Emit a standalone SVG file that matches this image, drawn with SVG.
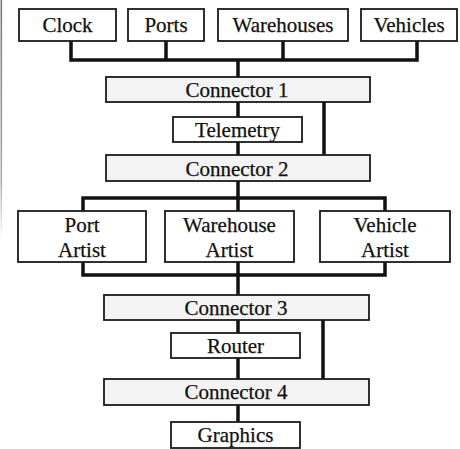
<svg xmlns="http://www.w3.org/2000/svg" width="460" height="449" viewBox="0 0 460 449">
<style>
.box{fill:#ffffff;stroke:#1a1a1a;stroke-width:1.8}
.conn{fill:#f3f3f3;stroke:#1a1a1a;stroke-width:1.8}
.t{font-family:"Liberation Serif","Times New Roman",serif;font-size:21px;fill:#111;stroke:#111;stroke-width:0.25;text-anchor:middle}
.w{fill:none;stroke:#111;stroke-width:3.5;stroke-linejoin:miter;stroke-linecap:square}
</style>
<defs>
<linearGradient id="edge" x1="0" y1="0" x2="0" y2="1">
<stop offset="0" stop-color="#777"/>
<stop offset="0.75" stop-color="#aaa"/>
<stop offset="1" stop-color="#fff"/>
</linearGradient>
</defs>
<rect width="460" height="449" fill="#ffffff"/>
<rect x="0.5" y="0" width="1.6" height="240" fill="url(#edge)"/>
<g id="connectors">
<path class="w" d="M71 41V60H417V41M166 41V60M283 41V60M238 60V77"/>
<path class="w" d="M238 102V117M238 142V155M324 102V155"/>
<path class="w" d="M238 181V198M83 211V198H385V211M238 198V211"/>
<path class="w" d="M83 262V275H385V262M238 262V295"/>
<path class="w" d="M238 320V333M238 358V379M323 320V379"/>
<path class="w" d="M238 405V422"/>
</g>
<g id="clock"><rect class="box" x="19" y="9" width="97" height="32"/><text class="t" x="67.5" y="32">Clock</text></g>
<g id="ports"><rect class="box" x="128" y="9" width="76" height="32"/><text class="t" x="166" y="32">Ports</text></g>
<g id="warehouses"><rect class="box" x="218" y="9" width="130" height="32"/><text class="t" x="283" y="32">Warehouses</text></g>
<g id="vehicles"><rect class="box" x="361" y="9" width="96" height="32"/><text class="t" x="409" y="32">Vehicles</text></g>
<g id="connector1"><rect class="conn" x="106" y="77" width="264" height="25"/><text class="t" x="237" y="97">Connector 1</text></g>
<g id="telemetry"><rect class="box" x="173" y="117" width="129" height="25"/><text class="t" x="237.5" y="137">Telemetry</text></g>
<g id="connector2"><rect class="conn" x="106" y="155" width="264" height="26"/><text class="t" x="237" y="176">Connector 2</text></g>
<g id="port-artist"><rect class="box" x="18" y="211" width="128" height="51"/><text class="t" x="82" y="232">Port</text><text class="t" x="82" y="257">Artist</text></g>
<g id="warehouse-artist"><rect class="box" x="165" y="211" width="129" height="51"/><text class="t" x="229.5" y="232">Warehouse</text><text class="t" x="229.5" y="257">Artist</text></g>
<g id="vehicle-artist"><rect class="box" x="320" y="211" width="130" height="51"/><text class="t" x="385" y="232">Vehicle</text><text class="t" x="385" y="257">Artist</text></g>
<g id="connector3"><rect class="conn" x="104" y="295" width="265" height="25"/><text class="t" x="236" y="315">Connector 3</text></g>
<g id="router"><rect class="box" x="171" y="333" width="129" height="25"/><text class="t" x="235.5" y="353">Router</text></g>
<g id="connector4"><rect class="conn" x="104" y="379" width="265" height="26"/><text class="t" x="236" y="399">Connector 4</text></g>
<g id="graphics"><rect class="box" x="171" y="422" width="129" height="26"/><text class="t" x="235.5" y="442">Graphics</text></g>
</svg>
